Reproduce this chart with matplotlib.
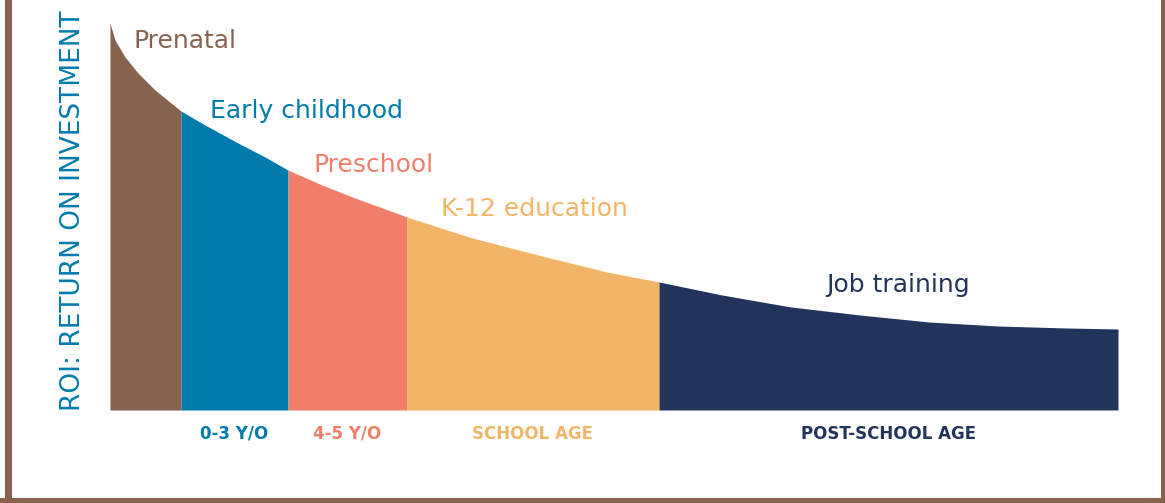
import matplotlib
matplotlib.use("Agg")
import matplotlib.pyplot as plt
from matplotlib.patches import Rectangle
import numpy as np

# Curve (x position along life course, ROI height)
curve_x = [0, 5, 15, 28, 45, 71, 95, 128, 155, 178, 212, 245, 278, 297,
           359, 428, 497, 549, 612, 681, 750, 819, 888, 957, 1008]
curve_y = [387, 370, 353, 337, 320, 299, 285, 267, 253, 240, 225, 212, 200, 193,
           173, 155, 138, 128, 115, 103, 95, 88, 84, 82, 81]

# Segment boundaries along x
bounds = [0, 71, 178, 297, 549, 1008]
stage_labels = ["Prenatal", "Early childhood", "Preschool", "K-12 education", "Job training"]
age_labels = [None, "0-3 Y/O", "4-5 Y/O", "SCHOOL AGE", "POST-SCHOOL AGE"]
colors = ["#87634F", "#007BAC", "#F07F6A", "#F2B567", "#22335C"]

W, H = 1165, 503
fig = plt.figure(figsize=(W / 100, H / 100), dpi=100)
fig.patch.set_facecolor("white")

ax = fig.add_axes([110 / W, (H - 410) / H, 1008 / W, 388 / H])
ax.set_xlim(0, 1008)
ax.set_ylim(0, 388)
ax.axis("off")

cx = np.array(curve_x, dtype=float)
cy = np.array(curve_y, dtype=float)
for i in range(5):
    a, b = bounds[i], bounds[i + 1]
    m = (cx >= a) & (cx <= b)
    ax.fill_between(cx[m], 0, cy[m], color=colors[i], linewidth=0, antialiased=True)

font = "DejaVu Sans"
# stage labels near the curve
label_pos = [(24, 362), (100, 292), (204, 238), (331, 194), (716, 118)]
for (lx, ly), txt, c in zip(label_pos, stage_labels, colors):
    ax.text(lx, ly, txt, color=c, fontsize=18, family=font, ha="left", va="baseline")

# age labels under the segments
for i in range(5):
    if age_labels[i] is None:
        continue
    mid = (bounds[i] + bounds[i + 1]) / 2
    ax.text(mid, -29, age_labels[i], color=colors[i], fontsize=12, family=font,
            fontweight="bold", ha="center", va="baseline", clip_on=False)

fig.text(73 / W, 1 - 211 / H, "ROI: RETURN ON INVESTMENT", rotation=90, color="#007BAC",
         fontsize=19, family=font, ha="center", va="center")

# brown frame (left, bottom, right)
brown = "#87634F"
fig.add_artist(Rectangle((5 / W, 0), 7 / W, 1, transform=fig.transFigure, color=brown, lw=0))
fig.add_artist(Rectangle((0, 0), 1, 5 / H, transform=fig.transFigure, color=brown, lw=0))
fig.add_artist(Rectangle((1161 / W, 0), 4 / W, 1, transform=fig.transFigure, color=brown, lw=0))

fig.savefig("out.png", dpi=100, facecolor="white")
